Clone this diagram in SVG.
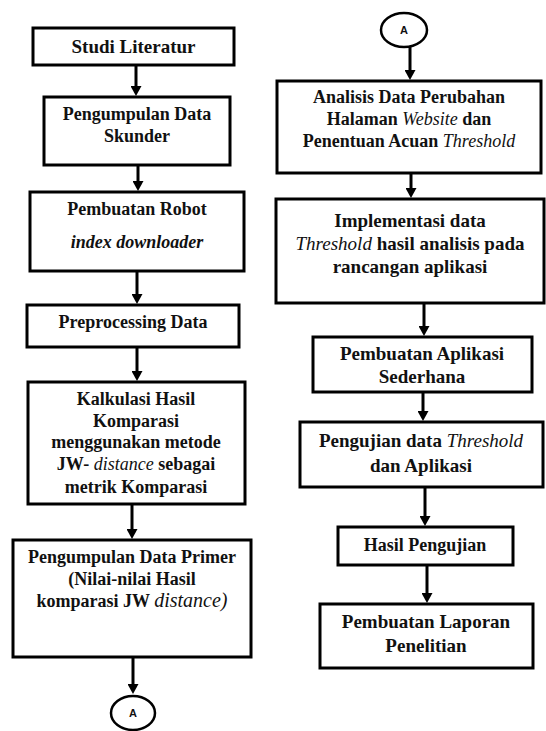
<svg xmlns="http://www.w3.org/2000/svg" width="546" height="731" viewBox="0 0 546 731">
<style>
.box{fill:#fff;stroke:#000;stroke-width:3}
.con{fill:none;stroke:#000;stroke-width:3}
text{font-family:'Liberation Serif','Times New Roman',Tinos,'DejaVu Serif',serif}
.t{font-weight:bold;font-size:18px;fill:#111;text-anchor:middle}
.big{font-size:19px}
.it{font-style:italic;font-weight:normal}
.bi{font-style:italic}
text.a{font-family:'Liberation Sans',Arial,sans-serif;font-weight:bold;font-size:11px;fill:#111;text-anchor:middle}
</style>
<defs>
<marker id="ah" markerUnits="userSpaceOnUse" markerWidth="10" markerHeight="11" refX="2" refY="5.5" orient="auto">
<path d="M0,0 L10,5.5 L0,11 z" fill="#000"/>
</marker>
</defs>
<rect width="546" height="731" fill="#fff"/>
<g id="connectors">
<line class="con" x1="136" y1="66" x2="136" y2="88" marker-end="url(#ah)"/>
<line class="con" x1="138" y1="166" x2="138" y2="183" marker-end="url(#ah)"/>
<line class="con" x1="137" y1="272" x2="137" y2="296" marker-end="url(#ah)"/>
<line class="con" x1="137" y1="348" x2="137" y2="373" marker-end="url(#ah)"/>
<line class="con" x1="132" y1="505" x2="132" y2="531" marker-end="url(#ah)"/>
<line class="con" x1="133" y1="658" x2="133" y2="686" marker-end="url(#ah)"/>
<line class="con" x1="410" y1="47" x2="410" y2="72" marker-end="url(#ah)"/>
<line class="con" x1="411" y1="174" x2="411" y2="190" marker-end="url(#ah)"/>
<line class="con" x1="424" y1="304" x2="424" y2="328" marker-end="url(#ah)"/>
<line class="con" x1="423" y1="393" x2="423" y2="413" marker-end="url(#ah)"/>
<line class="con" x1="425" y1="488" x2="425" y2="518" marker-end="url(#ah)"/>
<line class="con" x1="427" y1="566" x2="427" y2="595" marker-end="url(#ah)"/>
</g>
<g id="n1"><rect class="box" x="33" y="28" width="201" height="37"/><text class="t big" x="133.5" y="53">Studi Literatur</text></g>
<g id="n2"><rect class="box" x="44" y="97" width="186" height="68"/><text class="t" x="137" y="120">Pengumpulan Data</text><text class="t" x="137" y="142">Skunder</text></g>
<g id="n3"><rect class="box" x="30" y="192" width="214" height="79"/><text class="t" x="137" y="215">Pembuatan Robot</text><text class="t bi" x="137" y="248">index downloader</text></g>
<g id="n4"><rect class="box" x="27" y="305" width="212" height="42"/><text class="t" x="133" y="328">Preprocessing Data</text></g>
<g id="n5"><rect class="box" x="28" y="382" width="217" height="122"/>
<text class="t" x="136" y="405">Kalkulasi Hasil</text>
<text class="t" x="136" y="427">Komparasi</text>
<text class="t" x="136" y="448">menggunakan metode</text>
<text class="t" x="136" y="470">JW- <tspan class="it">distance</tspan> sebagai</text>
<text class="t" x="136" y="493">metrik Komparasi</text></g>
<g id="n6"><rect class="box" x="13" y="540" width="238" height="117"/>
<text class="t" x="132" y="563">Pengumpulan Data Primer</text>
<text class="t" x="132" y="585">(Nilai-nilai Hasil</text>
<text class="t" x="132" y="607">komparasi JW <tspan class="it" font-size="20">distance)</tspan></text></g>
<g id="cA1"><ellipse cx="133" cy="713" rx="22" ry="17" fill="#fff" stroke="#000" stroke-width="2.5"/><text class="a" x="133" y="717">A</text></g>
<g id="cA2"><ellipse cx="404" cy="30" rx="23" ry="17" fill="#fff" stroke="#000" stroke-width="2.5"/><text class="a" x="404" y="34">A</text></g>
<g id="r1"><rect class="box" x="277" y="81" width="264" height="92"/>
<text class="t" x="409" y="103">Analisis Data Perubahan</text>
<text class="t" x="409" y="125">Halaman <tspan class="it">Website</tspan> dan</text>
<text class="t" x="409" y="147">Penentuan Acuan <tspan class="it">Threshold</tspan></text></g>
<g id="r2"><rect class="box" x="276" y="199" width="268" height="104"/>
<text class="t big" x="410" y="227">Implementasi data</text>
<text class="t big" x="410" y="250"><tspan class="it">Threshold</tspan> hasil analisis pada</text>
<text class="t big" x="410" y="273">rancangan aplikasi</text></g>
<g id="r3"><rect class="box" x="313" y="337" width="219" height="55"/>
<text class="t big" x="422" y="360">Pembuatan Aplikasi</text>
<text class="t big" x="422" y="383">Sederhana</text></g>
<g id="r4"><rect class="box" x="300" y="422" width="243" height="65"/>
<text class="t big" x="421" y="447">Pengujian data <tspan class="it">Threshold</tspan></text>
<text class="t big" x="421" y="472">dan Aplikasi</text></g>
<g id="r5"><rect class="box" x="338" y="527" width="175" height="38"/>
<text class="t" x="425" y="551">Hasil Pengujian</text></g>
<g id="r6"><rect class="box" x="320" y="604" width="213" height="64"/>
<text class="t big" x="426" y="628">Pembuatan Laporan</text>
<text class="t big" x="426" y="652">Penelitian</text></g>
</svg>
